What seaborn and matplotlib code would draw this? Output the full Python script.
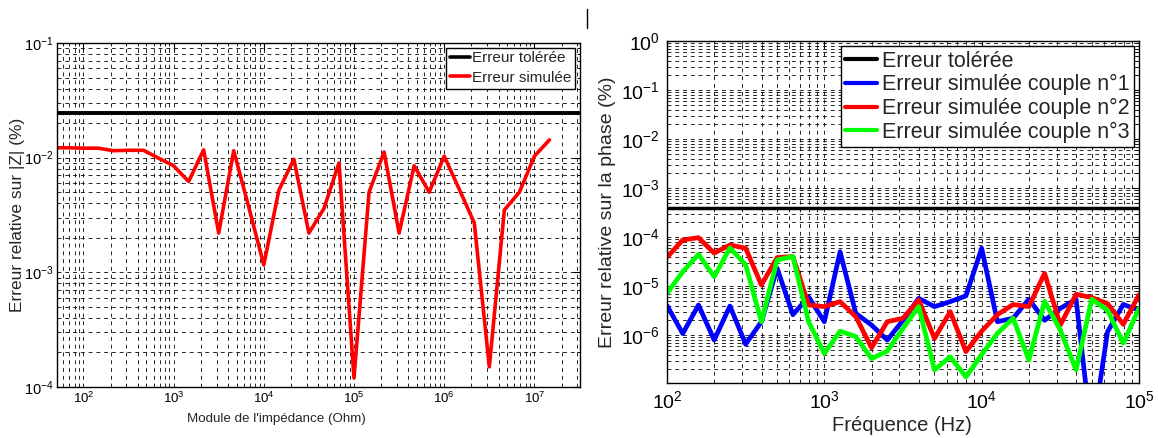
import matplotlib
matplotlib.use("Agg")
import matplotlib.pyplot as plt
import seaborn as sns
from matplotlib.lines import Line2D
from matplotlib.ticker import LogLocator, NullFormatter, FixedLocator

# ---------------- data: left panel (|Z| relative error) ----------------
impedance_ohm = [46.4, 68.1, 100, 146.8, 215.4, 316.2, 464.2, 681.3,
                 1000, 1468, 2154, 3162, 4642, 6813,
                 1.0e4, 1.468e4, 2.154e4, 3.162e4, 4.642e4, 6.813e4,
                 1.0e5, 1.468e5, 2.154e5, 3.162e5, 4.642e5, 6.813e5,
                 1.0e6, 1.468e6, 2.154e6, 3.162e6, 4.642e6, 6.813e6,
                 1.0e7, 1.468e7]
err_z_simulated = [0.0122, 0.0122, 0.0121, 0.0121, 0.0115, 0.0116, 0.0116, 0.0099,
                   0.0085, 0.0062, 0.0117, 0.0022, 0.0115, 0.0037,
                   0.00116, 0.0052, 0.0097, 0.0022, 0.0036, 0.0090,
                   0.00012, 0.0050, 0.0112, 0.0022, 0.0085, 0.0050,
                   0.0103, 0.0053, 0.0027, 0.00015, 0.0035, 0.0050,
                   0.0103, 0.0143]
err_z_tolerated = 0.0245

# ---------------- data: right panel (phase relative error) ----------------
frequency_hz = [100, 125.9, 158.5, 199.5, 251.2, 316.2, 398.1, 501.2, 631.0, 794.3,
                1000, 1259, 1585, 1995, 2512, 3162, 3981, 5012, 6310, 7943,
                10000, 12589, 15849, 19953, 25119, 31623, 39811, 50119, 63096, 79433,
                100000]
err_phase_c1 = [4.0e-6, 1.07e-6, 4.1e-6, 7.9e-7, 3.9e-6, 6.5e-7, 1.87e-6, 2.3e-5, 2.6e-6, 6.0e-6,
                1.87e-6, 5.0e-5, 2.77e-6, 1.6e-6, 7.9e-7, 2.0e-6, 5.6e-6, 3.8e-6, 4.8e-6, 6.3e-6,
                5.9e-5, 1.87e-6, 2.2e-6, 5.4e-6, 2.0e-6, 3.5e-6, 5.4e-6, 8.0e-9, 1.17e-6, 4.2e-6,
                3.2e-6]
err_phase_c2 = [3.85e-5, 8.7e-5, 9.7e-5, 4.7e-5, 6.9e-5, 5.9e-5, 1.05e-5, 3.8e-5, 4.0e-5, 4.1e-6,
                3.8e-6, 4.8e-6, 2.37e-6, 5.5e-7, 1.87e-6, 2.2e-6, 5.2e-6, 8.5e-7, 3.0e-6, 4.6e-7,
                1.2e-6, 2.6e-6, 4.2e-6, 3.8e-6, 1.82e-5, 1.6e-6, 6.8e-6, 5.8e-6, 4.4e-6, 1.65e-6,
                6.6e-6]
err_phase_c3 = [7.1e-6, 1.96e-5, 4.45e-5, 1.55e-5, 6.0e-5, 2.7e-5, 1.87e-6, 3.4e-5, 4.0e-5, 1.87e-6,
                4.2e-7, 1.2e-6, 9.3e-7, 3.3e-7, 4.7e-7, 1.37e-6, 3.8e-6, 1.94e-7, 3.6e-7, 1.4e-7,
                4.0e-7, 1.08e-6, 2.2e-6, 3.1e-7, 4.9e-6, 1.26e-6, 1.94e-7, 5.4e-6, 3.2e-6, 6.8e-7,
                3.5e-6]
err_phase_tolerated = 4.0e-4

left_labels = ["Erreur tolérée", "Erreur simulée"]
right_labels = ["Erreur tolérée", "Erreur simulée couple n°1",
                "Erreur simulée couple n°2", "Erreur simulée couple n°3"]

# ---------------- style ----------------
sns.set_style("white")
REG = ["Liberation Sans", "DejaVu Sans"]
plt.rcParams["font.family"] = REG
plt.rcParams["mathtext.fontset"] = "custom"
plt.rcParams["mathtext.rm"] = "Liberation Sans"
plt.rcParams["mathtext.it"] = "Liberation Sans:italic"
plt.rcParams["axes.linewidth"] = 1.0

fig = plt.figure(figsize=(11.58, 4.38), dpi=100)
W, H = 1158, 438


def ax_at(x0, y0, x1, y1):
    return fig.add_axes([x0 / W, 1 - y1 / H, (x1 - x0) / W, (y1 - y0) / H])


ax1 = ax_at(57, 43, 580, 387)
ax2 = ax_at(667, 41, 1139, 383)

grid_kw = dict(color="black", linestyle=(0, (4, 4)), linewidth=0.7, alpha=0.85)


def style_axes(ax, xsize, ysize, pad):
    ax.xaxis.set_minor_locator(LogLocator(base=10, subs=range(2, 10), numticks=50))
    ax.yaxis.set_minor_locator(LogLocator(base=10, subs=range(2, 10), numticks=50))
    ax.xaxis.set_minor_formatter(NullFormatter())
    ax.yaxis.set_minor_formatter(NullFormatter())
    ax.grid(True, which="both", **grid_kw)
    ax.set_axisbelow(True)
    ax.tick_params(which="both", direction="in", top=True, right=True, colors="black")
    ax.tick_params(which="major", length=5, width=0.8, pad=pad)
    ax.tick_params(axis="x", which="major", labelsize=xsize)
    ax.tick_params(axis="y", which="major", labelsize=ysize)
    ax.tick_params(which="minor", length=2.5, width=0.6)
    for s in ax.spines.values():
        s.set_color("black")
        s.set_linewidth(1.0)


# ---------------- left panel ----------------
ax1.set_xscale("log")
ax1.set_yscale("log")
ax1.axhline(err_z_tolerated, color="black", linewidth=2.8, label=left_labels[0])
sns.lineplot(x=impedance_ohm, y=err_z_simulated, color="#ff0000", linewidth=2.6,
             label=left_labels[1], ax=ax1)
ax1.set_xlim(51, 3.2e7)
ax1.set_ylim(1e-4, 1e-1)
ax1.xaxis.set_major_locator(FixedLocator([1e2, 1e3, 1e4, 1e5, 1e6, 1e7]))
ax1.yaxis.set_major_locator(FixedLocator([1e-4, 1e-3, 1e-2, 1e-1]))
style_axes(ax1, 9.5, 10.5, 2.5)
ax1.set_xlabel("Module de l'impédance (Ohm)", fontsize=9.6)
ax1.set_ylabel("Erreur relative sur |Z| (%)", fontsize=12.5)
ax1.xaxis.set_label_coords(0.419, -0.093)
ax1.yaxis.set_label_coords(-0.075, 0.5)
ax1.xaxis.label.set_va("center")
ax1.yaxis.label.set_va("center")
leg1 = ax1.legend(loc="upper right", frameon=True, fancybox=False, edgecolor="black",
                  framealpha=1, borderaxespad=0.3, handlelength=1.3, handletextpad=0.15,
                  borderpad=0.25, labelspacing=0.35, prop={"size": 11})
leg1.get_frame().set_linewidth(1.0)
for l in leg1.get_lines():
    l.set_linewidth(2.6)

# ---------------- right panel ----------------
ax2.set_xscale("log")
ax2.set_yscale("log")
ax2.axhline(err_phase_tolerated, color="black", linewidth=2.5, label=right_labels[0])
for vals, col, lab in [(err_phase_c1, "#0000ff", right_labels[1]),
                       (err_phase_c2, "#ff0000", right_labels[2]),
                       (err_phase_c3, "#00ff00", right_labels[3])]:
    sns.lineplot(x=frequency_hz, y=vals, color=col, linewidth=3.4, label=lab, ax=ax2)
ax2.set_xlim(1e2, 1e5)
ax2.set_ylim(1.05e-7, 1)
ax2.xaxis.set_major_locator(FixedLocator([1e2, 1e3, 1e4, 1e5]))
ax2.yaxis.set_major_locator(FixedLocator([1e-6, 1e-5, 1e-4, 1e-3, 1e-2, 1e-1, 1e0]))
style_axes(ax2, 14, 14, 5)
ax2.set_xlabel("Fréquence (Hz)", fontsize=14.5)
ax2.set_ylabel("Erreur relative sur la phase (%)", fontsize=14)
ax2.xaxis.set_label_coords(0.498, -0.123)
ax2.yaxis.set_label_coords(-0.125, 0.5)
ax2.xaxis.label.set_va("center")
ax2.yaxis.label.set_va("center")
leg2 = ax2.legend(loc="upper right", frameon=True, fancybox=False, edgecolor="black",
                  framealpha=1, borderaxespad=0.25, handlelength=1.5, handletextpad=0.2,
                  borderpad=0.2, labelspacing=0.12, prop={"size": 15.5})
leg2.get_frame().set_linewidth(1.0)
for l in leg2.get_lines():
    l.set_linewidth(3.0)

# stray mark at the top centre of the original figure
fig.add_artist(Line2D([587 / W, 587 / W], [1 - 9 / H, 1 - 28 / H], color="black", linewidth=1.0))

fig.savefig("out.png", dpi=100)
